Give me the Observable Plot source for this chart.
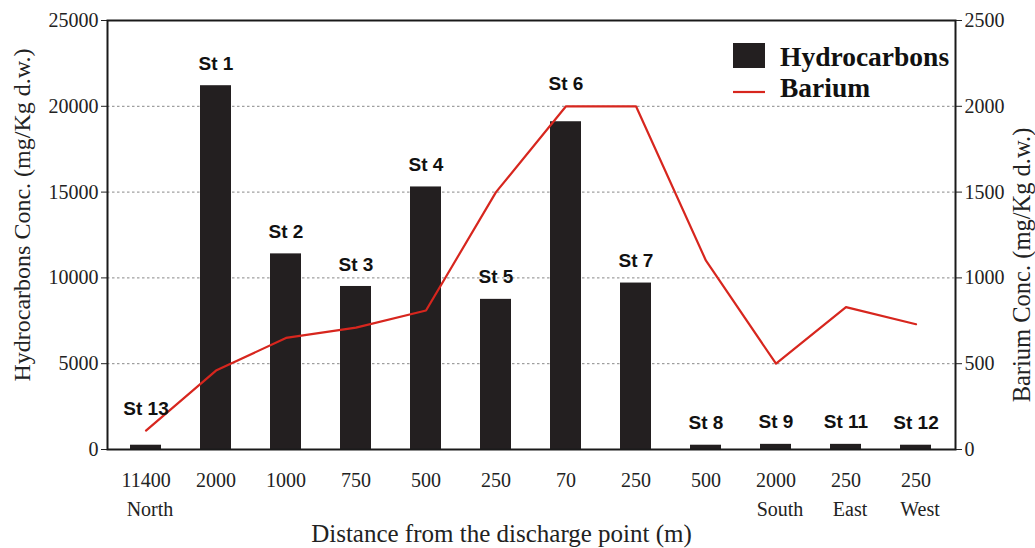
<!DOCTYPE html>
<html>
<head>
<meta charset="utf-8">
<script src="https://cdn.jsdelivr.net/npm/d3@7"></script>
<script src="https://cdn.jsdelivr.net/npm/@observablehq/plot@0.6"></script>
<style>
  html, body { margin: 0; padding: 0; background: #fff; }
  #chart svg { display: block; }
</style>
</head>
<body>
<div id="chart"></div>
<script>
const stations = ["St 13","St 1","St 2","St 3","St 4","St 5","St 6","St 7","St 8","St 9","St 11","St 12"];
const distances = ["11400","2000","1000","750","500","250","70","250","500","2000","250","250"];
const directions = ["North","","","","","","","","","South","East","West"];
const hydrocarbons = [250, 21200, 11400, 9500, 15300, 8750, 19100, 9700, 250, 300, 300, 250];
const barium = [110, 460, 650, 710, 810, 1500, 2000, 2000, 1100, 500, 830, 730];
const leftTicks = [0, 5000, 10000, 15000, 20000, 25000];
const rightTicks = [0, 500, 1000, 1500, 2000, 2500];
const gridTicks = [5000, 10000, 15000, 20000];
const labelsAboveLine = ["St 13", "St 6"];

const BA_FACTOR = 10; // barium axis 0..2500 mapped onto 0..25000
const data = stations.map((s, i) => ({
  station: s,
  distance: distances[i],
  direction: directions[i],
  hc: hydrocarbons[i],
  ba: barium[i] * BA_FACTOR,
  labelY: labelsAboveLine.includes(s) ? barium[i] * BA_FACTOR : hydrocarbons[i]
}));

const serif = "'Liberation Serif', 'Times New Roman', serif";
const sans = "'Liberation Sans', Arial, sans-serif";
const barColor = "#231f20";
const lineColor = "#d7261e";

const chart = Plot.plot({
  width: 1035,
  height: 548,
  marginLeft: 107,
  marginRight: 80,
  marginTop: 20,
  marginBottom: 99,
  style: { fontFamily: serif, fontSize: "20px", color: "#222", background: "#fff" },
  x: { domain: stations, paddingInner: 0.55, paddingOuter: 0.275, axis: null },
  y: { domain: [0, 25000], axis: null },
  marks: [
    Plot.gridY(gridTicks, { stroke: "#888", strokeOpacity: 1, strokeWidth: 1, strokeDasharray: "2.5,2.5" }),
    Plot.barY(data, { x: "station", y: "hc", fill: barColor }),
    Plot.line(data, { x: "station", y: "ba", stroke: lineColor, strokeWidth: 2.2 }),
    Plot.text(data, { x: "station", y: "labelY", text: "station", dy: -22, fontFamily: sans, fontWeight: "bold", fontSize: 19, fill: "#111" }),
    Plot.axisY({ anchor: "left", ticks: leftTicks, tickFormat: d => String(d), tickSize: 6, tickPadding: 3, label: null, fontSize: 20 }),
    Plot.axisY({ anchor: "right", ticks: leftTicks, tickFormat: (d, i) => String(rightTicks[i]), tickSize: 6, tickPadding: 3, label: null, fontSize: 20 }),
    Plot.axisX({ tickSize: 0, tickPadding: 23, tickFormat: s => distances[stations.indexOf(s)], label: null, fontSize: 20 }),
    Plot.text(data, { x: "station", text: "direction", frameAnchor: "bottom", dy: 66, dx: 4, fontSize: 20 }),
    Plot.frame({ stroke: "#1a1a1a", strokeWidth: 2 }),
    Plot.text(["Hydrocarbons Conc. (mg/Kg d.w.)"], { frameAnchor: "left", textAnchor: "middle", rotate: -90, dx: -85, dy: -20, fontSize: 24 }),
    Plot.text(["Barium Conc. (mg/Kg d.w.)"], { frameAnchor: "right", textAnchor: "middle", rotate: -90, dx: 67, dy: 30, fontSize: 24.5 }),
    Plot.text(["Distance from the discharge point (m)"], { frameAnchor: "bottom", textAnchor: "middle", dx: -30, dy: 92, fontSize: 25 })
  ]
});

// Legend
const svg = d3.select(chart);
const lg = svg.append("g").attr("class", "legend").attr("text-anchor", "start");
lg.append("rect").attr("x", 733).attr("y", 43).attr("width", 32).attr("height", 25).attr("fill", barColor);
lg.append("line").attr("x1", 733).attr("x2", 765).attr("y1", 92).attr("y2", 92).attr("stroke", lineColor).attr("stroke-width", 2.2);
lg.append("text").attr("x", 780).attr("y", 66).attr("font-family", serif).attr("font-weight", "bold").attr("font-size", 27.5).attr("fill", "#111").text("Hydrocarbons");
lg.append("text").attr("x", 780).attr("y", 97).attr("font-family", serif).attr("font-weight", "bold").attr("font-size", 27.5).attr("fill", "#111").text("Barium");

document.getElementById("chart").appendChild(chart);
</script>
</body>
</html>
